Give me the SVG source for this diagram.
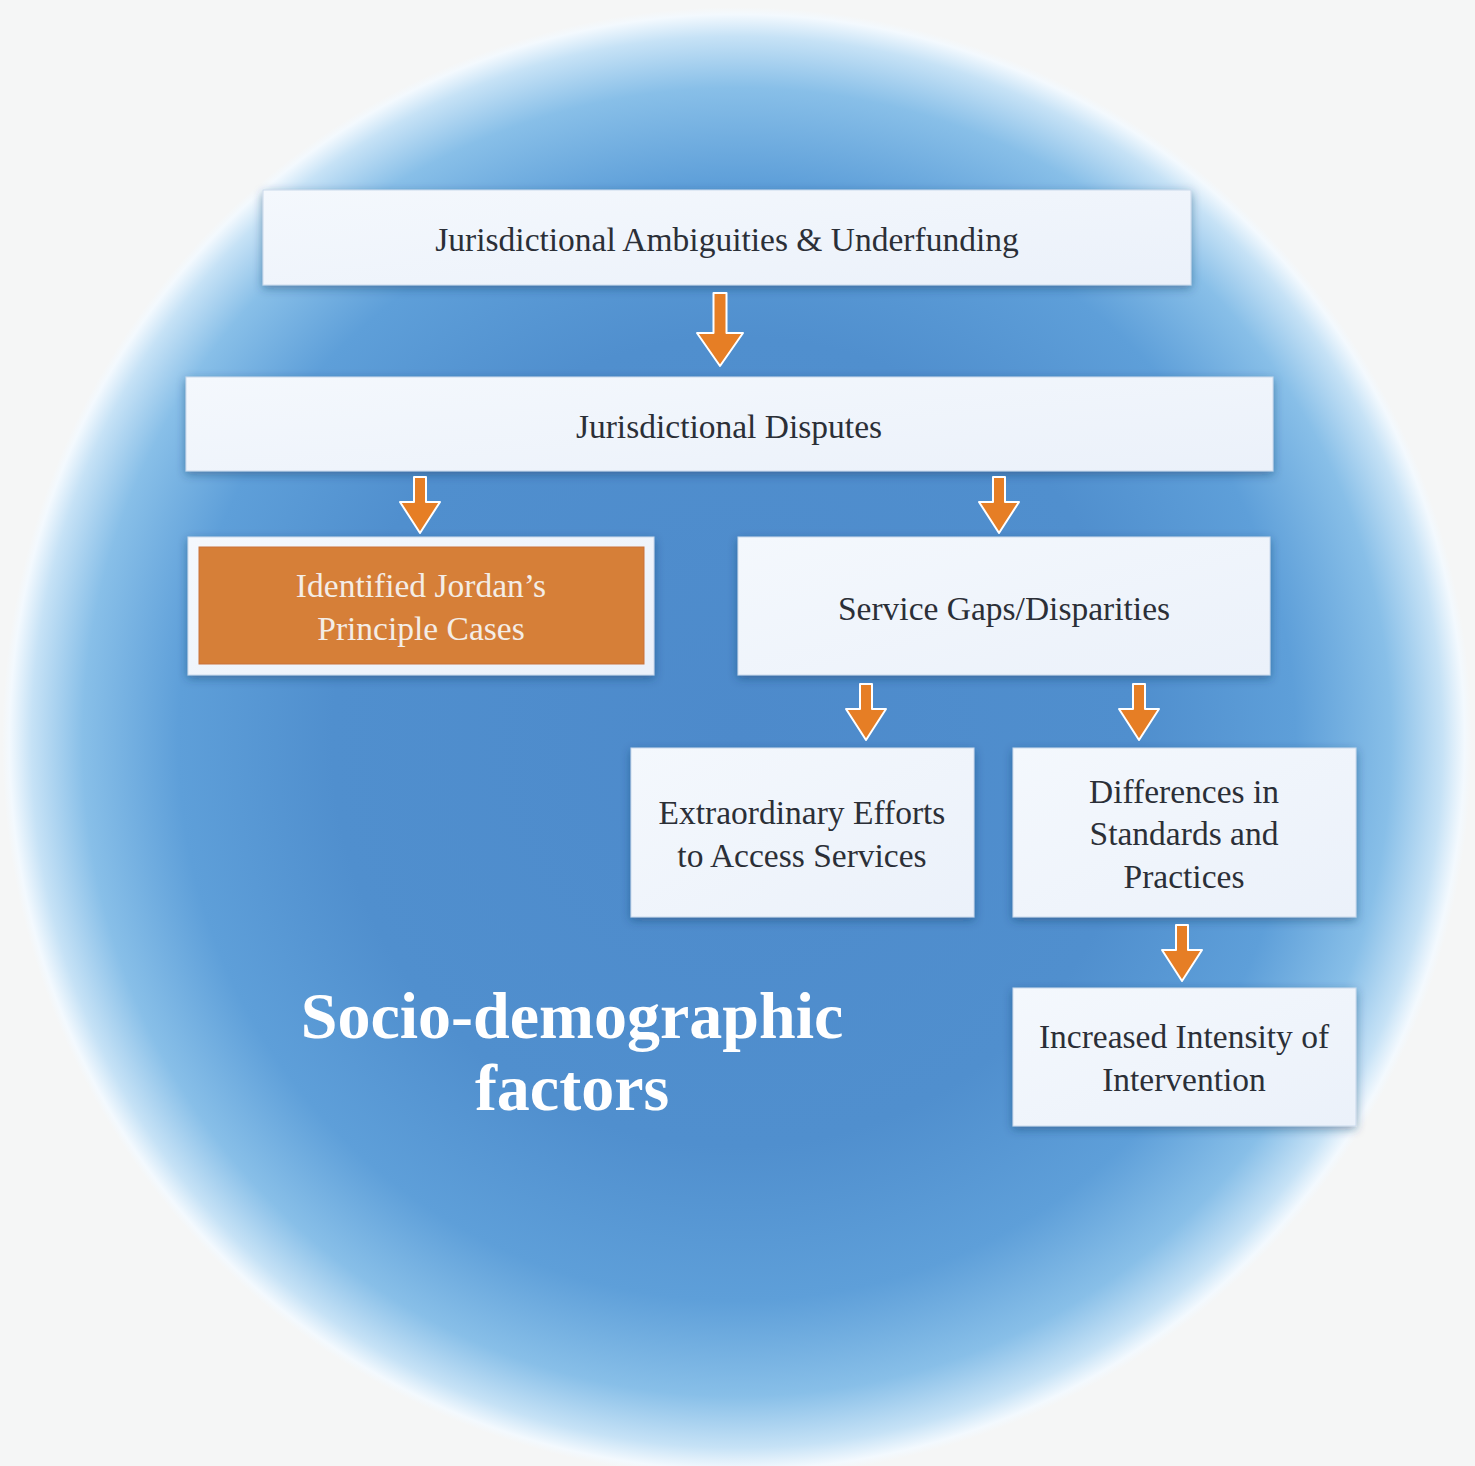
<svg xmlns="http://www.w3.org/2000/svg" width="1475" height="1466" viewBox="0 0 1475 1466">
<defs>
<radialGradient id="bg" cx="737" cy="742" r="735" gradientUnits="userSpaceOnUse">
<stop offset="0" stop-color="#4d8acb"/>
<stop offset="0.55" stop-color="#508fce"/>
<stop offset="0.76" stop-color="#5e9fd9"/>
<stop offset="0.89" stop-color="#88bfe8"/>
<stop offset="0.96" stop-color="#c6e2f6"/>
<stop offset="0.99" stop-color="#f3f9fe"/>
<stop offset="1" stop-color="#f5f6f6"/>
</radialGradient>
<linearGradient id="boxg" x1="0" y1="0" x2="1" y2="1">
<stop offset="0" stop-color="#f4f8fd"/>
<stop offset="1" stop-color="#ebf1fa"/>
</linearGradient>
<filter id="sh" x="-10%" y="-20%" width="120%" height="150%">
<feDropShadow dx="0" dy="3" stdDeviation="5" flood-color="#1d3a63" flood-opacity="0.45"/>
</filter>
</defs>
<style>
.box{fill:url(#boxg);stroke:#c9d9ec;stroke-width:1;filter:url(#sh)}
.t{font-family:"Liberation Serif","DejaVu Serif",serif;font-size:33.5px;fill:#2b2f37;text-anchor:middle}
.tw{fill:#f4ede6}
.arr{fill:#e67e25;stroke:#ffffff;stroke-width:2;stroke-linejoin:round}
.big{font-family:"Liberation Serif","DejaVu Serif",serif;font-size:66px;font-weight:bold;fill:#ffffff;text-anchor:middle}
</style>
<rect width="1475" height="1466" fill="#f5f6f6"/>
<circle cx="737" cy="742" r="735" fill="url(#bg)"/>

<g id="n1"><rect class="box" x="263" y="190" width="928" height="95"/><text class="t" x="727" y="251">Jurisdictional Ambiguities &amp; Underfunding</text></g>
<g id="n2"><rect class="box" x="186" y="377" width="1087" height="94"/><text class="t" x="729" y="438">Jurisdictional Disputes</text></g>
<g id="n3"><rect class="box" x="188" y="537" width="466" height="138"/><rect x="199" y="547" width="445" height="117" fill="#d67f38" stroke="#c9733a" stroke-width="1"/><text class="t tw" x="421" y="597">Identified Jordan’s</text><text class="t tw" x="421" y="640">Principle Cases</text></g>
<g id="n4"><rect class="box" x="738" y="537" width="532" height="138"/><text class="t" x="1004" y="620">Service Gaps/Disparities</text></g>
<g id="n5"><rect class="box" x="631" y="748" width="343" height="169"/><text class="t" x="802" y="824">Extraordinary Efforts</text><text class="t" x="802" y="867">to Access Services</text></g>
<g id="n6"><rect class="box" x="1013" y="748" width="343" height="169"/><text class="t" x="1184" y="803">Differences in</text><text class="t" x="1184" y="845">Standards and</text><text class="t" x="1184" y="888">Practices</text></g>
<g id="n7"><rect class="box" x="1013" y="988" width="343" height="138"/><text class="t" x="1184" y="1048">Increased Intensity of</text><text class="t" x="1184" y="1091">Intervention</text></g>

<g id="connectors">
<path class="arr" d="M713.5,293 H726.5 V333 H743 L720,366 L697,333 H713.5 Z"/>
<path class="arr" d="M414,477 H426 V502 H440 L420,533 L400,502 H414 Z"/>
<path class="arr" d="M993,477 H1005 V502 H1019 L999,533 L979,502 H993 Z"/>
<path class="arr" d="M860,684 H872 V709 H886 L866,740 L846,709 H860 Z"/>
<path class="arr" d="M1133,684 H1145 V709 H1159 L1139,740 L1119,709 H1133 Z"/>
<path class="arr" d="M1176,925 H1188 V950 H1202 L1182,981 L1162,950 H1176 Z"/>
</g>

<g id="label"><text class="big" x="572" y="1038">Socio-demographic</text><text class="big" x="572" y="1110">factors</text></g>
</svg>
